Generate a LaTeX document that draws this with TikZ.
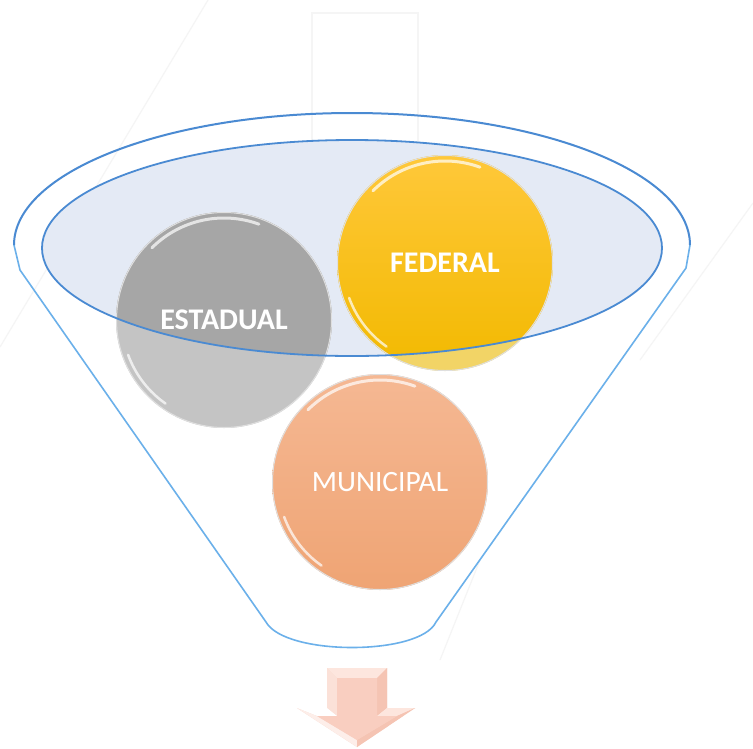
\documentclass[tikz,border=0pt]{standalone}
\usepackage{fontspec}
\setmainfont{Carlito}
\usetikzlibrary{calc}
\definecolor{rimblue}{HTML}{4A8AD2}
\definecolor{sideblue}{HTML}{6BB0EA}
\definecolor{ellfillc}{HTML}{E4EAF5}
\definecolor{grayin}{HTML}{A6A6A6}
\definecolor{grayout}{HTML}{C4C4C4}
\definecolor{goldtop}{HTML}{FFC83A}
\definecolor{goldbot}{HTML}{F2B900}
\definecolor{goldout}{HTML}{F2D466}
\definecolor{salmtop}{HTML}{F5B893}
\definecolor{salmbot}{HTML}{EFA474}
\definecolor{arrbase}{HTML}{FAD4C7}
\definecolor{arrface}{HTML}{F9CEC0}
\definecolor{arrdark}{HTML}{F5C4B3}
\definecolor{arrlight}{HTML}{FDE6DE}
\tikzset{
  faint/.style={draw=black!4, line width=1.2pt},
  funnelline/.style={draw=sideblue, line width=1.6pt, line join=round},
  rimline/.style={draw=rimblue, line width=2pt},
  glint/.style={white, line width=3pt, opacity=.7, line cap=round},
  rimglow/.style={draw=white!75!gray, line width=1pt},
  lbl/.style={text=white, inner sep=0pt},
}
\begin{document}
\begin{tikzpicture}[x=1pt,y=-1pt]
\useasboundingbox (0,0) rectangle (753,748);
\fill[white] (0,0) rectangle (753,748);
% faint watermark
\draw[faint] (208,0) -- (0,347);
\draw[faint] (312,13) rectangle (418,200);
\draw[faint] (753,203) -- (640,360);
\draw[faint] (480,560) -- (440,660);
% funnel outline
\coordinate (rimL) at (14,245);
\coordinate (rimR) at (690,245);
\coordinate (sideRt) at (686,268);
\coordinate (sideRb) at (436,622);
\coordinate (sideLb) at (266,622);
\coordinate (sideLt) at (20,270);
\draw[funnelline] (rimR) -- (sideRt) -- (sideRb) .. controls (420,656) and (285,656) .. (sideLb) -- (sideLt) -- (rimL);
\draw[rimline] (rimL) arc[start angle=180, end angle=360, x radius=338, y radius=132];
% inner ellipse fill
\coordinate (ellC) at (352,248);
\fill[ellfillc] (ellC) ellipse[x radius=310, y radius=108];
% circles
\coordinate (cE) at (224,320);
\coordinate (cF) at (445,263);
\coordinate (cM) at (380,482);
% estadual
\fill[grayout] (cE) circle[radius=108];
\begin{scope}
\clip (ellC) ellipse[x radius=310, y radius=108];
\fill[grayin] (cE) circle[radius=108];
\end{scope}
% federal
\fill[goldout] (cF) circle[radius=108];
\begin{scope}
\clip (ellC) ellipse[x radius=310, y radius=108];
\shade[top color=goldtop, bottom color=goldbot] (cF) circle[radius=108];
\end{scope}
% municipal
\shade[top color=salmtop, bottom color=salmbot] (cM) circle[radius=108];
% gloss
\foreach \c in {cE,cF,cM}{
  \draw[rimglow] (\c) circle[radius=107.5];
  \draw[glint] ($(\c)+(225:102)$) arc[start angle=225, end angle=290, radius=102];
  \draw[glint, line width=2.5pt] ($(\c)+(125:102)$) arc[start angle=125, end angle=160, radius=102];
}
% ellipse outline on top
\draw[rimline, line width=1.8pt] (ellC) ellipse[x radius=310, y radius=108];
% labels
\node[lbl, font=\bfseries\fontsize{30}{32}\selectfont] (tE) at (224,320) {ESTADUAL};
\node[lbl, font=\bfseries\fontsize{30}{32}\selectfont] (tF) at (445,263) {FEDERAL};
\node[lbl, font=\fontsize{29.5}{32}\selectfont] (tM) at (380,482) {MUNICIPAL};
% arrow
\fill[arrbase] (327,668) -- (387,668) -- (387,708) -- (415,708) -- (357,747) -- (297,708) -- (327,708) -- cycle;
\fill[arrlight] (327,668) -- (387,668) -- (377,678) -- (337,678) -- cycle;
\fill[arrdark] (387,668) -- (377,678) -- (377,716) -- (387,708) -- cycle;
\fill[arrbase!70!white] (327,668) -- (337,678) -- (337,716) -- (327,708) -- cycle;
\fill[white] (297,708) -- (327,708) -- (337,716) -- (317,716) -- cycle;
\fill[arrlight] (387,708) -- (415,708) -- (397,716) -- (377,716) -- cycle;
\fill[white!60!arrbase] (297,708) -- (317,716) -- (357,740) -- (357,747) -- cycle;
\fill[arrdark] (415,708) -- (397,716) -- (357,740) -- (357,747) -- cycle;
\fill[arrface] (337,678) -- (377,678) -- (377,716) -- (397,716) -- (357,740) -- (317,716) -- (337,716) -- cycle;
\end{tikzpicture}
\end{document}
